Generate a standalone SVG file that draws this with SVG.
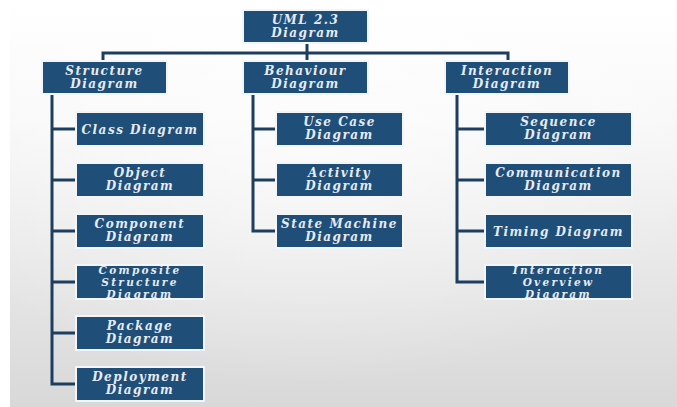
<svg xmlns="http://www.w3.org/2000/svg" width="677" height="407" viewBox="0 0 677 407">
  <defs>
    <linearGradient id="bg" x1="0" y1="0" x2="0" y2="1">
      <stop offset="0" stop-color="#ffffff"/>
      <stop offset="0.3" stop-color="#f8f8f8"/>
      <stop offset="1" stop-color="#d8d8d8"/>
    </linearGradient>
    <radialGradient id="glow" cx="0.45" cy="0.35" r="0.6">
      <stop offset="0" stop-color="#ffffff" stop-opacity="0.6"/>
      <stop offset="1" stop-color="#ffffff" stop-opacity="0"/>
    </radialGradient>
  </defs>
  <style>
    .box { fill: #1f4e79; stroke: #f3f6f9; stroke-width: 2; }
    .lbl { font-family: "DejaVu Serif", "Liberation Serif", serif; font-style: italic; font-weight: bold; font-size: 12px; letter-spacing: 1.5px; fill: #e6ecf2; text-anchor: middle; }
    .sm { font-size: 10.5px; letter-spacing: 2.3px; }
    .wire { fill: none; stroke: #1d3e5f; stroke-width: 3; }
  </style>

  <!-- backdrop -->
  <rect x="0" y="0" width="677" height="407" fill="#ffffff"/>
  <rect x="10" y="0" width="667" height="407" fill="url(#bg)"/>
  <rect x="10" y="0" width="667" height="407" fill="url(#glow)"/>

  <!-- connectors -->
  <g id="connectors" class="wire">
    <path d="M307 43 V53"/>
    <path d="M103 61 V53 H508 V61"/>
    <path d="M307 53 V61"/>
    <path d="M52 94 V384 H76 M52 129 H76 M52 180 H76 M52 231 H76 M52 282 H76 M52 333 H76"/>
    <path d="M253 94 V231 H276 M253 129 H276 M253 180 H276"/>
    <path d="M457 94 V282 H485 M457 129 H485 M457 180 H485 M457 231 H485"/>
  </g>

  <!-- root -->
  <g id="uml">
    <rect class="box" x="243" y="10" width="125" height="33"/>
    <text class="lbl" x="305.5" y="23.5">UML 2.3</text>
    <text class="lbl" x="305.5" y="37">Diagram</text>
  </g>

  <!-- categories -->
  <g id="structure">
    <rect class="box" x="42" y="61" width="125" height="33"/>
    <text class="lbl" x="104.5" y="74.5">Structure</text>
    <text class="lbl" x="104.5" y="88">Diagram</text>
  </g>
  <g id="behaviour">
    <rect class="box" x="243" y="61" width="125" height="33"/>
    <text class="lbl" x="305.5" y="74.5">Behaviour</text>
    <text class="lbl" x="305.5" y="88">Diagram</text>
  </g>
  <g id="interaction">
    <rect class="box" x="445" y="61" width="124" height="33"/>
    <text class="lbl" x="507" y="74.5">Interaction</text>
    <text class="lbl" x="507" y="88">Diagram</text>
  </g>

  <!-- structure diagrams -->
  <g id="class">
    <rect class="box" x="76" y="112" width="128" height="34"/>
    <text class="lbl" x="140" y="133.5">Class Diagram</text>
  </g>
  <g id="object">
    <rect class="box" x="76" y="163" width="128" height="34"/>
    <text class="lbl" x="140" y="176.5">Object</text>
    <text class="lbl" x="140" y="190">Diagram</text>
  </g>
  <g id="component">
    <rect class="box" x="76" y="214" width="128" height="34"/>
    <text class="lbl" x="140" y="227.5">Component</text>
    <text class="lbl" x="140" y="241">Diagram</text>
  </g>
  <g id="composite">
    <rect class="box" x="76" y="265" width="128" height="34"/>
    <text class="lbl sm" x="140" y="274">Composite</text>
    <text class="lbl sm" x="140" y="286.2">Structure</text>
    <text class="lbl sm" x="140" y="298.4">Diagram</text>
  </g>
  <g id="package">
    <rect class="box" x="76" y="316" width="128" height="34"/>
    <text class="lbl" x="140" y="329.5">Package</text>
    <text class="lbl" x="140" y="343">Diagram</text>
  </g>
  <g id="deployment">
    <rect class="box" x="76" y="367" width="128" height="34"/>
    <text class="lbl" x="140" y="380.5">Deployment</text>
    <text class="lbl" x="140" y="394">Diagram</text>
  </g>

  <!-- behaviour diagrams -->
  <g id="usecase">
    <rect class="box" x="276" y="112" width="127" height="34"/>
    <text class="lbl" x="339.5" y="125.5">Use Case</text>
    <text class="lbl" x="339.5" y="139">Diagram</text>
  </g>
  <g id="activity">
    <rect class="box" x="276" y="163" width="127" height="34"/>
    <text class="lbl" x="339.5" y="176.5">Activity</text>
    <text class="lbl" x="339.5" y="190">Diagram</text>
  </g>
  <g id="statemachine">
    <rect class="box" x="276" y="214" width="127" height="34"/>
    <text class="lbl" x="339.5" y="227.5">State Machine</text>
    <text class="lbl" x="339.5" y="241">Diagram</text>
  </g>

  <!-- interaction diagrams -->
  <g id="sequence">
    <rect class="box" x="485" y="112" width="147" height="34"/>
    <text class="lbl" x="558.5" y="125.5">Sequence</text>
    <text class="lbl" x="558.5" y="139">Diagram</text>
  </g>
  <g id="communication">
    <rect class="box" x="485" y="163" width="147" height="34"/>
    <text class="lbl" x="558.5" y="176.5">Communication</text>
    <text class="lbl" x="558.5" y="190">Diagram</text>
  </g>
  <g id="timing">
    <rect class="box" x="485" y="214" width="147" height="34"/>
    <text class="lbl" x="558.5" y="235.5">Timing Diagram</text>
  </g>
  <g id="overview">
    <rect class="box" x="485" y="265" width="147" height="34"/>
    <text class="lbl sm" x="558.5" y="274">Interaction</text>
    <text class="lbl sm" x="558.5" y="286.2">Overview</text>
    <text class="lbl sm" x="558.5" y="298.4">Diagram</text>
  </g>
</svg>
